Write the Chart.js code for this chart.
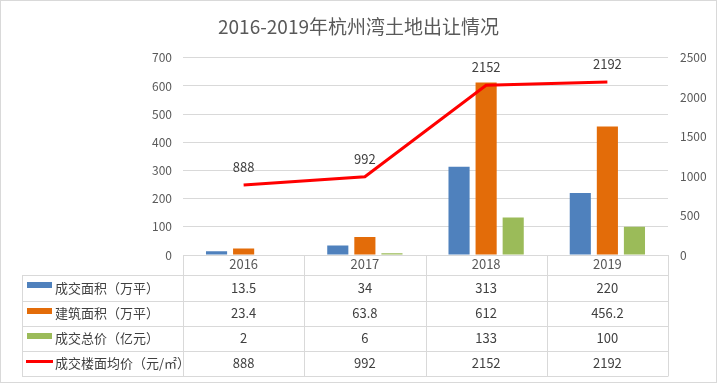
<!DOCTYPE html>
<html><head><meta charset="utf-8">
<script src="https://cdn.jsdelivr.net/npm/chart.js@4/dist/chart.umd.min.js"></script>
<style>html,body{margin:0;padding:0;background:#fff;overflow:hidden}#wrap{width:717px;height:383px;position:relative}</style>
</head><body><div id="wrap"><canvas id="c" width="717" height="383"></canvas></div>
<script>
const categories = ['2016', '2017', '2018', '2019'];
const dealArea = [13.5, 34, 313, 220];          // 成交面积（万平）
const buildArea = [23.4, 63.8, 612, 456.2];     // 建筑面积（万平）
const totalPrice = [2, 6, 133, 100];            // 成交总价（亿元）
const avgPrice = [888, 992, 2152, 2192];        // 成交楼面均价（元/㎡）
const seriesNames = ['成交面积（万平）', '建筑面积（万平）', '成交总价（亿元）', '成交楼面均价（元/㎡）'];
const leftAxis = {min: 0, max: 700, step: 100};
const rightAxis = {min: 0, max: 2500, step: 500};
const titleText = '2016-2019年杭州湾土地出让情况';

const FONT = '"Microsoft YaHei","Noto Sans CJK SC","Noto Sans",sans-serif';
const COLORS = {blue: '#4F81BD', orange: '#E36C09', green: '#9BBB59', red: '#FF0000'};
const GRID = '#D9D9D9';

const borderPlugin = {
  id: 'frame',
  beforeDraw(chart) {
    const ctx = chart.ctx;
    ctx.save();
    ctx.fillStyle = '#fff';
    ctx.fillRect(0, 0, chart.width, chart.height);
    ctx.strokeStyle = GRID;
    ctx.lineWidth = 1;
    ctx.strokeRect(0.5, 0.5, chart.width - 1, chart.height - 1);
    ctx.restore();
  }
};

const lineLabelPlugin = {
  id: 'lineLabels',
  afterDatasetsDraw(chart) {
    const ctx = chart.ctx;
    const meta = chart.getDatasetMeta(0);
    ctx.save();
    ctx.font = '13px ' + FONT;
    ctx.fillStyle = '#404040';
    ctx.textAlign = 'center';
    ctx.textBaseline = 'middle';
    meta.data.forEach((p, i) => {
      ctx.fillText(String(chart.data.datasets[0].data[i]), p.x, p.y - 18);
    });
    ctx.restore();
  }
};

const tablePlugin = {
  id: 'dataTable',
  afterDraw(chart) {
    const ctx = chart.ctx;
    const xs = chart.scales.x;
    const area = chart.chartArea;
    const top = area.bottom;
    const tableLeft = 22;
    const rowsY = [top + 20, top + 46, top + 71, top + 96, top + 121];
    const bounds = [];
    for (let i = 0; i <= categories.length; i++) bounds.push(Math.round(xs.getPixelForValue(i - 0.5)));
    ctx.save();
    ctx.strokeStyle = GRID;
    ctx.lineWidth = 1;
    ctx.beginPath();
    rowsY.forEach(y => {
      ctx.moveTo(tableLeft, Math.round(y) + 0.5);
      ctx.lineTo(bounds[bounds.length - 1], Math.round(y) + 0.5);
    });
    bounds.forEach(bx => {
      ctx.moveTo(bx + 0.5, top);
      ctx.lineTo(bx + 0.5, Math.round(rowsY[rowsY.length - 1]) + 0.5);
    });
    ctx.moveTo(tableLeft + 0.5, Math.round(rowsY[0]));
    ctx.lineTo(tableLeft + 0.5, Math.round(rowsY[rowsY.length - 1]) + 0.5);
    ctx.stroke();

    const rowsData = [dealArea, buildArea, totalPrice, avgPrice];
    const swatch = [COLORS.blue, COLORS.orange, COLORS.green, COLORS.red];
    ctx.font = '13px ' + FONT;
    ctx.textBaseline = 'middle';
    for (let r = 0; r < 4; r++) {
      const cy = (rowsY[r] + rowsY[r + 1]) / 2;
      ctx.fillStyle = swatch[r];
      if (r < 3) {
        ctx.fillRect(27, Math.round(cy) - 6, 25, 6);
      } else {
        ctx.fillRect(26, Math.round(cy) - 4, 27, 3);
      }
      ctx.fillStyle = '#404040';
      ctx.textAlign = 'left';
      ctx.fillText(seriesNames[r], 55, cy);
      ctx.textAlign = 'center';
      rowsData[r].forEach((v, i) => {
        ctx.fillText(String(v), xs.getPixelForValue(i), cy);
      });
    }
    ctx.restore();
  }
};

new Chart(document.getElementById('c'), {
  data: {
    labels: categories,
    datasets: [
      {type: 'line', label: seriesNames[3], data: avgPrice, yAxisID: 'y1', borderColor: COLORS.red, backgroundColor: COLORS.red, borderWidth: 3, pointRadius: 0, tension: 0, order: 0},
      {type: 'bar', label: seriesNames[0], data: dealArea, yAxisID: 'y', backgroundColor: COLORS.blue, categoryPercentage: 0.67, barPercentage: 0.78, order: 1},
      {type: 'bar', label: seriesNames[1], data: buildArea, yAxisID: 'y', backgroundColor: COLORS.orange, categoryPercentage: 0.67, barPercentage: 0.78, order: 1},
      {type: 'bar', label: seriesNames[2], data: totalPrice, yAxisID: 'y', backgroundColor: COLORS.green, categoryPercentage: 0.67, barPercentage: 0.78, order: 1}
    ]
  },
  options: {
    responsive: false,
    animation: false,
    devicePixelRatio: 1,
    layout: {padding: {left: 0, right: 0, top: 0, bottom: 108}},
    plugins: {
      legend: {display: false},
      tooltip: {enabled: false},
      title: {display: true, text: titleText, color: '#595959', font: {family: FONT, size: 19, weight: 'normal', lineHeight: 1.2}, padding: {top: 15, bottom: 20}}
    },
    scales: {
      x: {
        offset: true,
        grid: {display: false},
        border: {display: false},
        ticks: {color: '#595959', font: {family: FONT, size: 13, lineHeight: 1}, padding: -5, maxRotation: 0},
        afterFit(s) { s.height = 20; }
      },
      y: {
        position: 'left', min: leftAxis.min, max: leftAxis.max,
        grid: {color: GRID, drawTicks: false},
        border: {display: false},
        ticks: {stepSize: leftAxis.step, color: '#595959', font: {family: FONT, size: 12}, padding: 11, callback: v => String(v)},
        afterFit(s) { s.width = 183; }
      },
      y1: {
        position: 'right', min: rightAxis.min, max: rightAxis.max,
        grid: {display: false, drawTicks: false},
        border: {display: false},
        ticks: {stepSize: rightAxis.step, color: '#595959', font: {family: FONT, size: 12}, padding: 12, callback: v => String(v)},
        afterFit(s) { s.width = 49; }
      }
    }
  },
  plugins: [borderPlugin, lineLabelPlugin, tablePlugin]
});
</script></body></html>
